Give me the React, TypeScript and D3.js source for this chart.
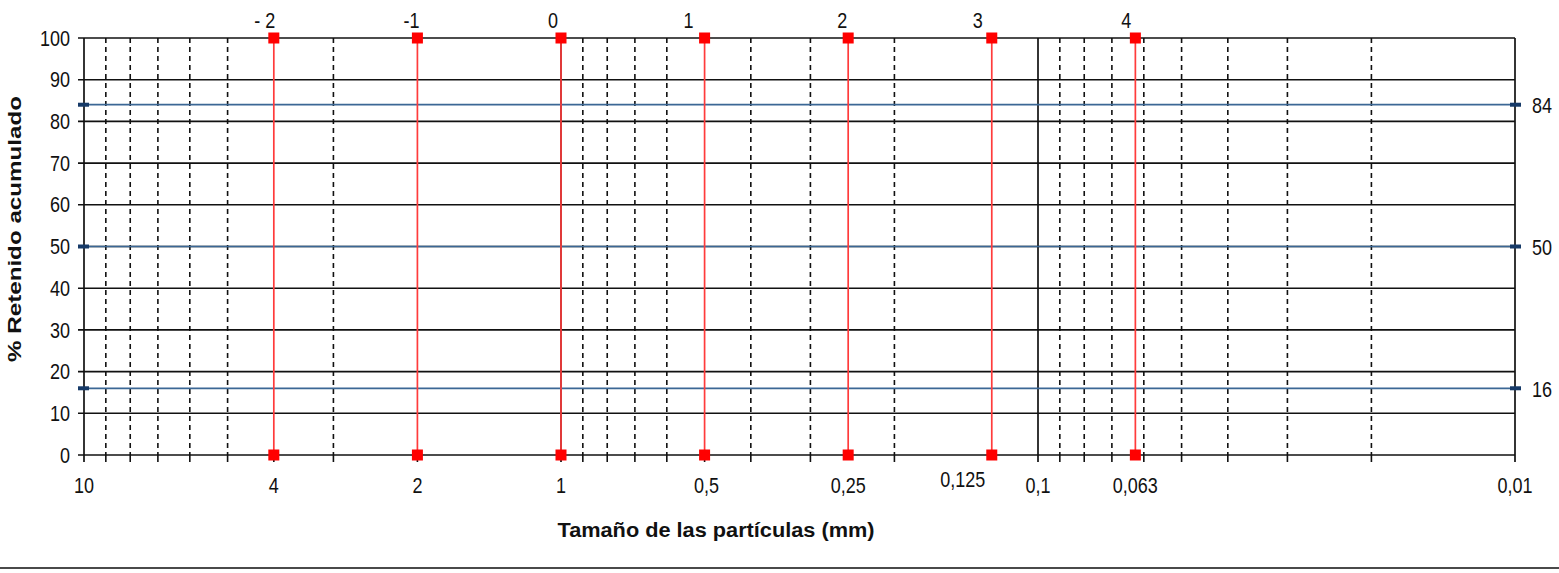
import React from "react";
import * as d3 from "d3";

// ---- data ----
const phiValues = [-2, -1, 0, 1, 2, 3, 4];
const phiLabels = ["- 2", "-1", "0", "1", "2", "3", "4"];
const phiSizes = [4, 2, 1, 0.5, 0.25, 0.125, 0.0625];
const sizeTickValues = [10, 4, 2, 1, 0.5, 0.25, 0.125, 0.1, 0.0625, 0.01];
const sizeTickLabels = ["10", "4", "2", "1", "0,5", "0,25", "0,125", "0,1", "0,063", "0,01"];
const majorGrid = [10, 1, 0.1, 0.01];
const minorGrid = [
  9, 8, 7, 6, 5, 4, 3, 2,
  0.9, 0.8, 0.7, 0.6, 0.5, 0.4, 0.3, 0.2,
  0.09, 0.08, 0.07, 0.06, 0.05, 0.04, 0.03, 0.02,
];
const yTickValues = [0, 10, 20, 30, 40, 50, 60, 70, 80, 90, 100];
const percentileLines = [84, 50, 16];

// label nudges (style only)
const topLabelNudgeX = [-9, -6, -8, -16, -6, -14, -9];
const bottomLabelNudgeX = [0, 0, 0, 0, 2, 0, -29, 0, 0, 0];
const bottomLabelNudgeY = [0, 0, 0, 0, 0, 0, -6, 0, 0, 0];

const W = 1559;
const H = 573;
const left = 84;
const right = 1515;
const top = 38;
const bottom = 455;

const FONT = "'Liberation Sans', Arial, sans-serif";

function T({ x, y, children, anchor = "middle", size = 18, sy = 1.2, weight = "normal" }: any) {
  return (
    <text
      transform={`translate(${x},${y}) scale(1,${sy})`}
      textAnchor={anchor}
      fontFamily={FONT}
      fontSize={size}
      fontWeight={weight}
      fill="#111"
      dominantBaseline="central"
    >
      {children}
    </text>
  );
}

export default function App() {
  const x = d3.scaleLog().domain([10, 0.01]).range([left, right]);
  const y = d3.scaleLinear().domain([0, 100]).range([bottom, top]);
  const gridColor = "#111";

  return (
    <svg width={W} height={H} style={{ position: "absolute", left: 0, top: 0, background: "#fff" }}>
      <rect x={0} y={0} width={W} height={H} fill="#fff" />
      {/* horizontal grid lines + y ticks */}
      {yTickValues.map((v) => (
        <line key={"h" + v} x1={left - 6} x2={right} y1={y(v)} y2={y(v)} stroke={gridColor} strokeWidth={1.6} />
      ))}
      {/* minor dashed verticals */}
      {minorGrid.map((v) => (
        <g key={"m" + v}>
          {!phiSizes.includes(v) && (
            <line x1={x(v)} x2={x(v)} y1={top} y2={bottom} stroke={gridColor} strokeWidth={1.6} strokeDasharray="5,4" />
          )}
          <line x1={x(v)} x2={x(v)} y1={bottom} y2={bottom + 7} stroke={gridColor} strokeWidth={1.6} />
        </g>
      ))}
      {/* major solid verticals */}
      {majorGrid.map((v) => (
        <line key={"M" + v} x1={x(v)} x2={x(v)} y1={top} y2={bottom + 7} stroke={gridColor} strokeWidth={1.7} />
      ))}
      {/* y tick labels */}
      {yTickValues.map((v) => (
        <T key={"yl" + v} x={70} y={y(v)} anchor="end">
          {v}
        </T>
      ))}
      {/* percentile lines */}
      {percentileLines.map((p) => (
        <g key={"p" + p}>
          <line x1={left - 6} x2={right + 6} y1={y(p)} y2={y(p)} stroke="#3b6795" strokeWidth={1.7} />
          <rect x={left - 6} y={y(p) - 2} width={11} height={4} fill="#163a68" />
          <rect x={right - 5} y={y(p) - 2} width={11} height={4} fill="#163a68" />
          <T x={1532} y={y(p) + 1} anchor="start">
            {p}
          </T>
        </g>
      ))}
      {/* phi red lines */}
      {phiSizes.map((s, i) => (
        <g key={"r" + phiValues[i]}>
          <line x1={x(s)} x2={x(s)} y1={y(100)} y2={y(0)} stroke="#ff3b3b" strokeWidth={1.7} />
          <rect x={x(s) - 5.5} y={y(100) - 5.5} width={11} height={11} fill="#ff0000" />
          <rect x={x(s) - 5.5} y={y(0) - 5.5} width={11} height={11} fill="#ff0000" />
          <T x={x(s) + topLabelNudgeX[i]} y={20}>
            {phiLabels[i]}
          </T>
        </g>
      ))}
      {/* x tick labels */}
      {sizeTickValues.map((v, i) => (
        <T key={"xl" + i} x={x(v) + bottomLabelNudgeX[i]} y={485 + bottomLabelNudgeY[i]}>
          {sizeTickLabels[i]}
        </T>
      ))}
      {/* axis titles */}
      <text
        transform="translate(716,530) scale(1,1.15)"
        textAnchor="middle"
        dominantBaseline="central"
        fontFamily={FONT}
        fontSize={18}
        fontWeight="bold"
        fill="#111"
        textLength={317}
        lengthAdjust="spacingAndGlyphs"
      >
        Tamaño de las partículas (mm)
      </text>
      <text
        transform="translate(15,229) rotate(-90) scale(1,1.1)"
        textAnchor="middle"
        dominantBaseline="central"
        fontFamily={FONT}
        fontSize={17}
        fontWeight="bold"
        fill="#111"
        textLength={266}
        lengthAdjust="spacingAndGlyphs"
      >
        % Retenido acumulado
      </text>
      {/* bottom separator */}
      <line x1={0} x2={W} y1={568} y2={568} stroke="#4a4a4a" strokeWidth={2} />
    </svg>
  );
}
